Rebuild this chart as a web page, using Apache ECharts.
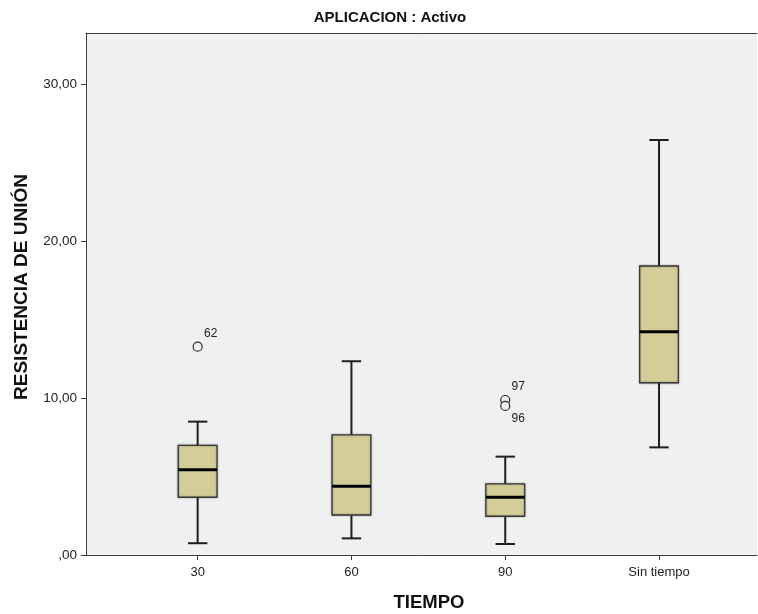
<!DOCTYPE html>
<html>
<head>
<meta charset="utf-8">
<script src="https://cdn.jsdelivr.net/npm/echarts@6/dist/echarts.min.js"></script>
<style>
html,body{margin:0;padding:0;background:#fff;}
#chart{width:758px;height:614px;}
</style>
</head>
<body>
<div id="chart"></div>
<script>
// ---- data ----
const categories = ['30', '60', '90', 'Sin tiempo'];
const whiskerLow  = [0.75, 1.06, 0.70, 6.86];
const q1          = [3.68, 2.55, 2.47, 10.98];
const median      = [5.44, 4.38, 3.68, 14.23];
const q3          = [6.99, 7.65, 4.53, 18.42];
const whiskerHigh = [8.50, 12.35, 6.27, 26.45];
const outlierCategory = ['30', '90', '90'];
const outlierValue    = [13.28, 9.88, 9.50];
const outlierCase     = ['62', '97', '96'];
const yTicks = [0, 10, 20, 30];

const titleText = 'APLICACION : Activo';
const xTitle = 'TIEMPO';
const yTitle = 'RESISTENCIA DE UNIÓN';

// ---- chart ----
const FONT = "'Liberation Sans', Arial, sans-serif";
const chart = echarts.init(document.getElementById('chart'), null, {renderer: 'canvas'});

const boxData = categories.map((c, i) => [i + 1, whiskerLow[i], q1[i], median[i], q3[i], whiskerHigh[i]]);
const labelBelow = {'96': true};
const outlierData = outlierValue.map((v, i) => ({
  value: [categories.indexOf(outlierCategory[i]) + 1, v],
  name: outlierCase[i],
  label: {offset: [13, labelBelow[outlierCase[i]] ? 13 : -13]}
}));

function fmtY(v) {
  const s = v.toFixed(2).replace('.', ',');
  return s.startsWith('0,') ? s.slice(1) : s;
}

function renderBox(params, api) {
  const x = api.value(0);
  const pLow = api.coord([x, api.value(1)]);
  const pQ1 = api.coord([x, api.value(2)]);
  const pMed = api.coord([x, api.value(3)]);
  const pQ3 = api.coord([x, api.value(4)]);
  const pHigh = api.coord([x, api.value(5)]);
  const cx = pMed[0];
  const bw = api.size([1, 0])[0] * 0.252;
  const cw = bw / 2;
  const lineStyle = {stroke: '#1e1e1e', lineWidth: 2, fill: null};
  return {
    type: 'group',
    children: [
      {type: 'line', shape: {x1: cx, y1: pLow[1], x2: cx, y2: pQ1[1]}, style: lineStyle},
      {type: 'line', shape: {x1: cx, y1: pQ3[1], x2: cx, y2: pHigh[1]}, style: lineStyle},
      {type: 'line', shape: {x1: cx - cw / 2, y1: pLow[1], x2: cx + cw / 2, y2: pLow[1]}, style: lineStyle},
      {type: 'line', shape: {x1: cx - cw / 2, y1: pHigh[1], x2: cx + cw / 2, y2: pHigh[1]}, style: lineStyle},
      {type: 'rect', shape: {x: cx - bw / 2, y: pQ3[1], width: bw, height: pQ1[1] - pQ3[1]},
        style: {fill: '#d3ce98', stroke: '#3a3a3a', lineWidth: 1.3,
                shadowBlur: 2, shadowColor: 'rgba(0,0,0,0.35)'}},
      {type: 'line', shape: {x1: cx - bw / 2, y1: pMed[1], x2: cx + bw / 2, y2: pMed[1]},
        style: {stroke: '#000', lineWidth: 3}}
    ]
  };
}

const xMin = 0.274, xMax = 4.637;
const axisColor = '#3c3c3c';

const option = {
  animation: false,
  backgroundColor: '#ffffff',
  textStyle: {fontFamily: FONT},
  grid: {left: 86, top: 33, width: 671, height: 522, show: true,
         backgroundColor: '#f0f0f0', borderWidth: 0},
  xAxis: [{
    type: 'value', min: xMin, max: xMax, position: 'bottom',
    axisLine: {show: true, lineStyle: {color: axisColor, width: 1}},
    axisTick: {show: true, length: 5, inside: false, customValues: [1, 2, 3, 4],
               lineStyle: {color: axisColor}},
    axisLabel: {customValues: [1, 2, 3, 4], formatter: v => categories[Math.round(v) - 1] || '',
                fontFamily: FONT, fontSize: 13, color: '#222', margin: 11},
    splitLine: {show: false}
  }, {
    type: 'value', min: xMin, max: xMax, position: 'top',
    axisLine: {show: true, lineStyle: {color: axisColor, width: 1}},
    axisTick: {show: false}, axisLabel: {show: false}, splitLine: {show: false}
  }],
  yAxis: {
    type: 'value', min: 0, max: 33.27, interval: 10,
    axisLine: {show: true, lineStyle: {color: axisColor, width: 1}},
    axisTick: {show: true, length: 5, customValues: yTicks, lineStyle: {color: axisColor}},
    axisLabel: {customValues: yTicks, formatter: fmtY, fontFamily: FONT, fontSize: 13.5,
                color: '#222', margin: 9},
    splitLine: {show: false}
  },
  series: [{
    type: 'custom',
    renderItem: renderBox,
    data: boxData,
    encode: {x: 0, y: [1, 2, 3, 4, 5]},
    clip: false,
    z: 2
  }, {
    type: 'scatter',
    data: outlierData,
    symbol: 'circle',
    symbolSize: 9,
    itemStyle: {color: '#f0f0f0', borderColor: '#2a2a2a', borderWidth: 1.2, opacity: 1},
    label: {show: true, position: 'inside', formatter: p => p.name,
            fontFamily: FONT, fontSize: 12, color: '#222'},
    z: 3
  }],
  graphic: [
    {type: 'text', x: 390, y: 18,
     style: {text: titleText, font: 'bold 15px ' + FONT, fill: '#111',
             textAlign: 'center', textVerticalAlign: 'middle', align: 'center', verticalAlign: 'middle'}},
    {type: 'text', x: 429, y: 603,
     style: {text: xTitle, font: 'bold 18.5px ' + FONT, fill: '#111',
             textAlign: 'center', textVerticalAlign: 'middle', align: 'center', verticalAlign: 'middle'}},
    {type: 'text', x: 22, y: 287, rotation: Math.PI / 2,
     style: {text: yTitle, font: 'bold 19px ' + FONT, fill: '#111',
             textAlign: 'center', textVerticalAlign: 'middle', align: 'center', verticalAlign: 'middle'}}
  ]
};
chart.setOption(option);
</script>
</body>
</html>
